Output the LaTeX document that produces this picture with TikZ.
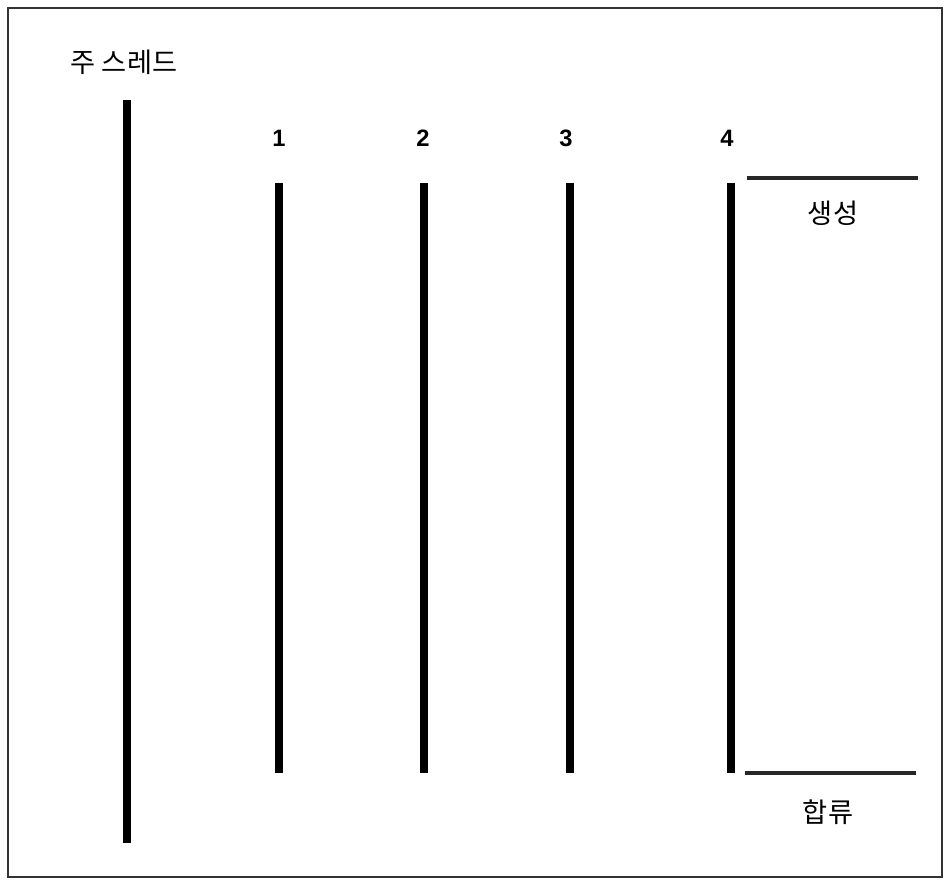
\documentclass[tikz,border=0pt]{standalone}
\usepackage{fontspec}
\setmainfont{Liberation Sans}
\newfontfamily\kofont{Noto Sans CJK KR}
\usetikzlibrary{positioning}

\begin{document}
\begin{tikzpicture}[x=0.02cm,y=-0.02cm,font=\kofont\fontsize{15.5}{18}\selectfont]
\tikzset{
    thread/.style={line width=4.5pt},
    mark line/.style={line width=2pt,black!85},
    num/.style={font=\bfseries\fontsize{13.5}{15}\selectfont}
}
\useasboundingbox (0,0) rectangle (944,883);
\draw[line width=1.2pt,black!80] (8,8) rectangle (942,877);
% main thread
\node (main) at (124,62) {주 스레드};
\draw[thread] (127,100) -- (127,843);
% worker threads
\foreach \n/\x/\lx in {1/279/279,2/424/423,3/570/566,4/731/727} {
    \node[num] (t\n) at (\lx,138) {\n};
    \draw[thread] (\x,183) -- (\x,773);
}
% fork and join
\draw[mark line] (747,178) -- (918,178);
\node (fork) at (833,213) {생성};
\draw[mark line] (745,773) -- (916,773);
\node (join) at (828,812) {합류};
\end{tikzpicture}
\end{document}
